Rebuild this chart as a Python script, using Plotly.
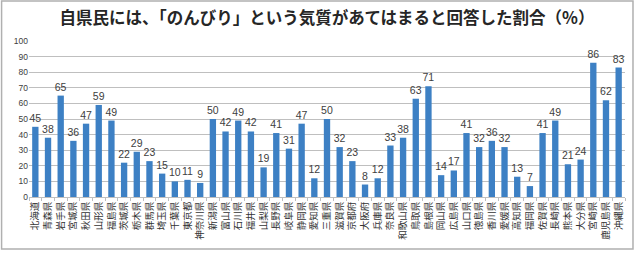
import plotly.graph_objects as go

prefectures = ["北海道","青森県","岩手県","宮城県","秋田県","山形県","福島県","茨城県","栃木県","群馬県",
               "埼玉県","千葉県","東京都","神奈川県","新潟県","富山県","石川県","福井県","山梨県","長野県",
               "岐阜県","静岡県","愛知県","三重県","滋賀県","京都府","大阪府","兵庫県","奈良県","和歌山県",
               "鳥取県","島根県","岡山県","広島県","山口県","徳島県","香川県","愛媛県","高知県","福岡県",
               "佐賀県","長崎県","熊本県","大分県","宮崎県","鹿児島県","沖縄県"]
values = [45,38,65,36,47,59,49,22,29,23,
          15,10,11,9,50,42,49,42,19,41,
          31,47,12,50,32,23,8,12,33,38,
          63,71,14,17,41,32,36,32,13,7,
          41,49,21,24,86,62,83]
y_ticks = list(range(0, 101, 10))

font_jp = "Noto Sans CJK JP"

fig = go.Figure(go.Bar(
    x=prefectures, y=values,
    marker=dict(color="#3d80c4", line=dict(width=0)),
    text=[str(v) for v in values], textposition="outside",
    constraintext="none",
    textfont=dict(size=10.5, color="#404040", family="Liberation Sans, Arial"),
    cliponaxis=False,
))

fig.update_layout(
    width=642, height=260,
    margin=dict(l=29, r=17, t=41, b=63),
    paper_bgcolor="white", plot_bgcolor="white",
    bargap=0.5,
    showlegend=False,
    uniformtext=dict(mode=False),
    title=dict(text="<b>自県民には、「のんびり」という気質があてはまると回答した割合（%）</b>",
               x=0.5, xref="paper", y=0.93, yref="container", xanchor="center", yanchor="middle",
               font=dict(family=font_jp, size=16.5, color="#262626")),
    xaxis=dict(tickangle=-90, tickfont=dict(family=font_jp, size=9.5, color="#333333"),
               showgrid=False, showline=True, linecolor="#bfbfbf", linewidth=1,
               ticks="outside", ticklen=3, tickcolor="#bfbfbf", tickson="boundaries",
               automargin=False),
    yaxis=dict(range=[0, 100], tickvals=y_ticks, showgrid=True, gridcolor="#bfbfbf", gridwidth=1,
               zeroline=False, showline=False,
               tickfont=dict(family="Liberation Sans, Arial", size=8.5, color="#404040"),
               ticklen=0, automargin=False),
    shapes=[dict(type="rect", xref="paper", yref="paper",
                 x0=-0.046, x1=1.0134, y0=-0.333, y1=1.256,
                 line=dict(color="#b0b0b0", width=1.5))],
)

fig.write_html("out.html")
